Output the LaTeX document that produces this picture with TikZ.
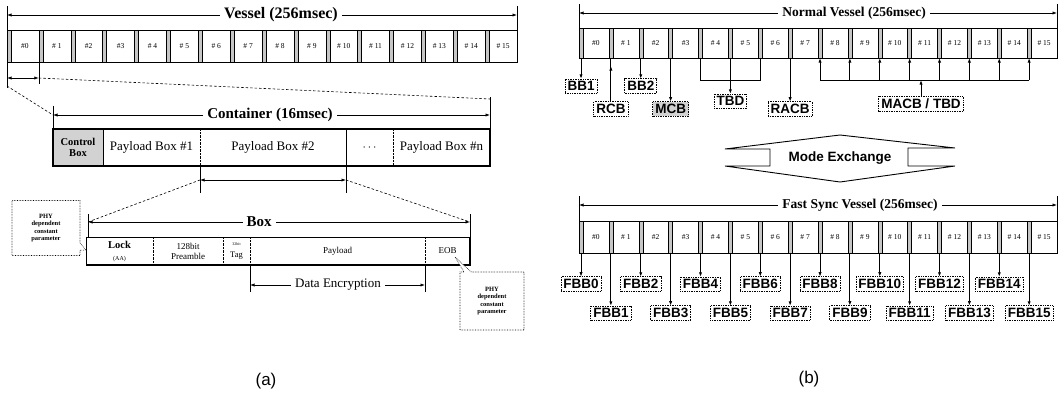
\documentclass[tikz,border=0pt]{standalone}
\usepackage{fontspec}
\setmainfont{Liberation Serif}
\newfontfamily\sansb{Liberation Sans}
\usetikzlibrary{arrows.meta,shapes.callouts}
\begin{document}
\begin{tikzpicture}[x=1pt,y=-1pt,
  every node/.style={inner sep=0pt,outer sep=0pt},
  arrtip/.style={-{Latex[length=4.5pt,width=3.2pt]}},
  dimline/.style={line width=0.7pt,{Latex[length=4.5pt,width=3.2pt]}-{Latex[length=4.5pt,width=3.2pt]}},
  tickln/.style={line width=0.6pt},
  hdr/.style={fill=white,inner xsep=4pt,inner ysep=1pt,font=\fontsize{15}{16}\selectfont\bfseries},
  hdrb/.style={fill=white,inner xsep=4pt,inner ysep=1pt,font=\fontsize{13.5}{14}\selectfont\bfseries},
  slotbox/.style={draw,line width=0.5pt,anchor=north west,font=\fontsize{7.5}{8}\selectfont},
  guardbox/.style={draw,line width=0.5pt,fill=gray!45,anchor=north west},
  cellbox/.style={anchor=north west,align=center},
  labbox/.style={draw,densely dotted,line width=0.7pt,fill=white,inner xsep=2.5pt,inner ysep=2.5pt,font=\sansb\fontsize{13.5}{14}\selectfont\bfseries},
  phybox/.style={rectangle callout,draw,densely dotted,line width=0.6pt,fill=white,align=center,font=\fontsize{6.5}{7.5}\selectfont\bfseries},
  captxt/.style={font=\sansb\fontsize{17}{18}\selectfont},
  dashl/.style={line width=0.6pt,dash pattern=on 2.5pt off 2pt},
  arrline/.style={line width=0.9pt},
]
\useasboundingbox (0,0) rectangle (1059,399);

% ================= (a) =================
\foreach \k/\t in {0/{\#0},1/{\# 1},2/{\#2},3/{\#3},4/{\# 4},5/{\# 5},6/{\# 6},7/{\# 7},8/{\# 8},9/{\# 9},10/{\# 10},11/{\# 11},12/{\# 12},13/{\# 13},14/{\# 14},15/{\# 15}} {
  \node[guardbox,minimum width=4,minimum height=32] (ag\k) at ({7+\k*31.875},30) {};
  \node[slotbox,minimum width=27.875,minimum height=32] (as\k) at ({11+\k*31.875},30) {\t};
}
\coordinate (vL) at (7,15);
\coordinate (vR) at (517,15);
\draw[tickln] (7,6) -- (7,88);
\draw[tickln] (517,6) -- (517,30);
\draw[dimline] (vL) -- (vR);
\node[hdr,font=\fontsize{16}{17}\selectfont\bfseries] (vt) at (281,15) {Vessel (256msec)};

\coordinate (sL) at (7,78);
\coordinate (sR) at (38.875,78);
\draw[tickln] (as0.south east) -- (38.875,84);
\draw[dimline] (sL) -- (sR);

\coordinate (cL) at (53,115);
\coordinate (cR) at (490,115);
\draw[dashl] (7,86) -- (cL);
\draw[dashl] (sR) -- (490,99);
\draw[tickln] (53,106) -- (53,129);
\draw[tickln] (490,97) -- (490,129);
\draw[dimline] (cL) -- (cR);
\node[hdr] (ct) at (270,115) {Container (16msec)};

\node[cellbox,minimum width=50,minimum height=37,fill=gray!35,font=\fontsize{10.5}{10.5}\selectfont\bfseries] (ctrl) at (53,129) {Control\\Box};
\node[cellbox,minimum width=97,minimum height=37,font=\fontsize{13}{14}\selectfont] (pb1) at (103,129) {Payload Box \#1};
\node[cellbox,minimum width=146,minimum height=37,font=\fontsize{13}{14}\selectfont] (pb2) at (200,129) {Payload Box \#2};
\node[cellbox,minimum width=47,minimum height=37,font=\fontsize{13}{14}\selectfont\bfseries] (dots) at (346,129) {$\cdots$};
\node[cellbox,minimum width=97,minimum height=37,font=\fontsize{13}{14}\selectfont] (pbn) at (393,129) {Payload Box \#n};
\draw[line width=1.6pt] (ctrl.north west) rectangle (pbn.south east);
\draw[line width=0.5pt] (ctrl.north east) -- (ctrl.south east);
\draw[densely dotted] (pb1.north east) -- (pb1.south east);
\draw[line width=0.5pt] (pb2.north east) -- (pb2.south east);
\draw[densely dotted] (dots.north east) -- (dots.south east);

\coordinate (pL) at (200,180);
\coordinate (pR) at (346,180);
\draw[tickln] (pb2.south west) -- (200,193);
\draw[tickln] (pb2.south east) -- (346,193);
\draw[dimline] (pL) -- (pR);

\coordinate (bL) at (88,222);
\coordinate (bR) at (470,222);
\draw[dashl] (pL) -- (bL);
\draw[dashl] (pR) -- (bR);
\draw[tickln] (88,214) -- (88,237);
\draw[tickln] (470,214) -- (470,237);
\draw[dimline] (bL) -- (bR);
\node[hdr] (bt) at (259,222) {Box};

\node[cellbox,minimum width=67,minimum height=28] (lock) at (86,237) {{\fontsize{10.5}{10}\selectfont\bfseries Lock}\\{\fontsize{6}{7}\selectfont (AA)}};
\node[cellbox,minimum width=70,minimum height=28,font=\fontsize{9}{10}\selectfont] (pre) at (153,237) {128bit\\Preamble};
\node[cellbox,minimum width=27,minimum height=28] (tag) at (223,237) {{\fontsize{4}{5}\selectfont 32bit}\\{\fontsize{8.5}{9}\selectfont Tag}};
\node[cellbox,minimum width=175,minimum height=28,font=\fontsize{9}{10}\selectfont] (pay) at (250,237) {Payload};
\node[cellbox,minimum width=45,minimum height=28,font=\fontsize{9}{10}\selectfont] (eob) at (425,237) {EOB};
\draw[line width=0.7pt] (lock.north west) rectangle (eob.south east);
\draw[line width=1.8pt] (lock.south west) -- (eob.south east) -- (eob.north east);
\foreach \c in {lock,pre,tag,pay} \draw[densely dotted] (\c.north east) -- (\c.south east);

\coordinate (dL) at (250,285);
\coordinate (dR) at (425,285);
\draw[tickln] (pay.south west) -- (250,292);
\draw[tickln] (pay.south east) -- (425,292);
\draw[dimline] (dL) -- (dR);
\node[fill=white,inner xsep=4pt,font=\fontsize{13}{14}\selectfont] (de) at (338,285) {Data Encryption};

\coordinate (lockp) at (86,250);
\coordinate (eobp) at (455,257);
\node[phybox,minimum width=68,minimum height=55,callout absolute pointer={(lockp)}] (phyl) at (46,228) {PHY\\dependent\\constant\\parameter};
\node[phybox,minimum width=64,minimum height=58,callout absolute pointer={(eobp)}] (phyr) at (492,301) {PHY\\dependent\\constant\\parameter};

\node[captxt] (capa) at (266,381) {(a)};

% ================= (b) =================
\foreach \k/\t in {0/{\#0},1/{\# 1},2/{\#2},3/{\#3},4/{\# 4},5/{\# 5},6/{\# 6},7/{\# 7},8/{\# 8},9/{\# 9},10/{\# 10},11/{\# 11},12/{\# 12},13/{\# 13},14/{\# 14},15/{\# 15}} {
  \node[guardbox,minimum width=4,minimum height=30] (bg\k) at ({579+\k*29.875},28) {};
  \node[slotbox,minimum width=25.875,minimum height=30] (bs\k) at ({583+\k*29.875},28) {\t};
  \node[guardbox,minimum width=4,minimum height=32] (fg\k) at ({579+\k*29.875},221) {};
  \node[slotbox,minimum width=25.875,minimum height=32] (fs\k) at ({583+\k*29.875},221) {\t};
}
\coordinate (nL) at (579,13);
\coordinate (nR) at (1057,13);
\draw[tickln] (579,4) -- (579,28);
\draw[tickln] (1057,4) -- (1057,28);
\draw[dimline] (nL) -- (nR);
\node[hdrb] (nt) at (854,13) {Normal Vessel (256msec)};

\node[labbox] (bb1) at (bg0.south |- 0,86) {BB1};
\node[labbox] (rcb) at (bg1.south |- 0,109) {RCB};
\node[labbox] (bb2) at (bg2.south |- 0,86) {BB2};
\node[labbox,fill=gray!35] (mcb) at (bg3.south |- 0,109) {MCB};
\node[labbox] (tbd) at (bg5.south |- 0,101) {TBD};
\node[labbox] (racb) at (bg7.south |- 0,109) {RACB};
\node[labbox] (macb) at (921,104) {MACB / TBD};
\draw[arrline,arrtip] (bg0.south) -- (bb1.north);
\draw[arrline] (bg1.south) -- (rcb.north);
\draw[arrline,arrtip] (rcb.north) -- (bg1.south |- 0,66);
\draw[arrline,arrtip] (bg2.south) -- (bb2.north);
\draw[arrline,arrtip] (bg3.south) -- (mcb.north);
\draw[line width=0.6pt] (bg4.south) -- (bg4.south |- 0,80) -- (bg6.south |- 0,80) -- (bg6.south);
\draw[arrline,arrtip] (bg5.south) -- (tbd.north);
\draw[arrline,arrtip] (bg7.south) -- (racb.north);
\draw[line width=0.6pt] (bg8.south |- 0,80) -- (bg15.south |- 0,80);
\foreach \k in {8,...,15} \draw[arrline,arrtip] (bg\k.south |- 0,80) -- (bg\k.south);
\draw[arrline,arrtip] (macb.north) -- (macb.north |- 0,80);

% Mode exchange
\draw[line width=0.9pt] (725,149) -- (840,135) -- (955,148) -- (908,148) -- (908,166) -- (955,166) -- (840,182) -- (725,166) -- (770,166) -- (770,149) -- cycle;
\node[font=\sansb\fontsize{13.5}{14}\selectfont\bfseries] (mx) at (840,158) {Mode Exchange};

\coordinate (fL) at (579,205);
\coordinate (fR) at (1057,205);
\draw[tickln] (579,196) -- (579,221);
\draw[tickln] (1057,196) -- (1057,221);
\draw[dimline] (fL) -- (fR);
\node[hdrb] (ft) at (860,205) {Fast Sync Vessel (256msec)};

\foreach \k in {0,2,...,14} {
  \node[labbox] (fbb\k) at (fg\k.south |- 0,284) {FBB\k};
  \draw[arrline,arrtip] (fg\k.south) -- (fbb\k.north);
}
\foreach \k in {1,3,...,15} {
  \node[labbox] (fbb\k) at (fg\k.south |- 0,313) {FBB\k};
  \draw[arrline,arrtip] (fg\k.south) -- (fbb\k.north);
}

\node[captxt] (capb) at (809,379) {(b)};
\end{tikzpicture}
\end{document}
